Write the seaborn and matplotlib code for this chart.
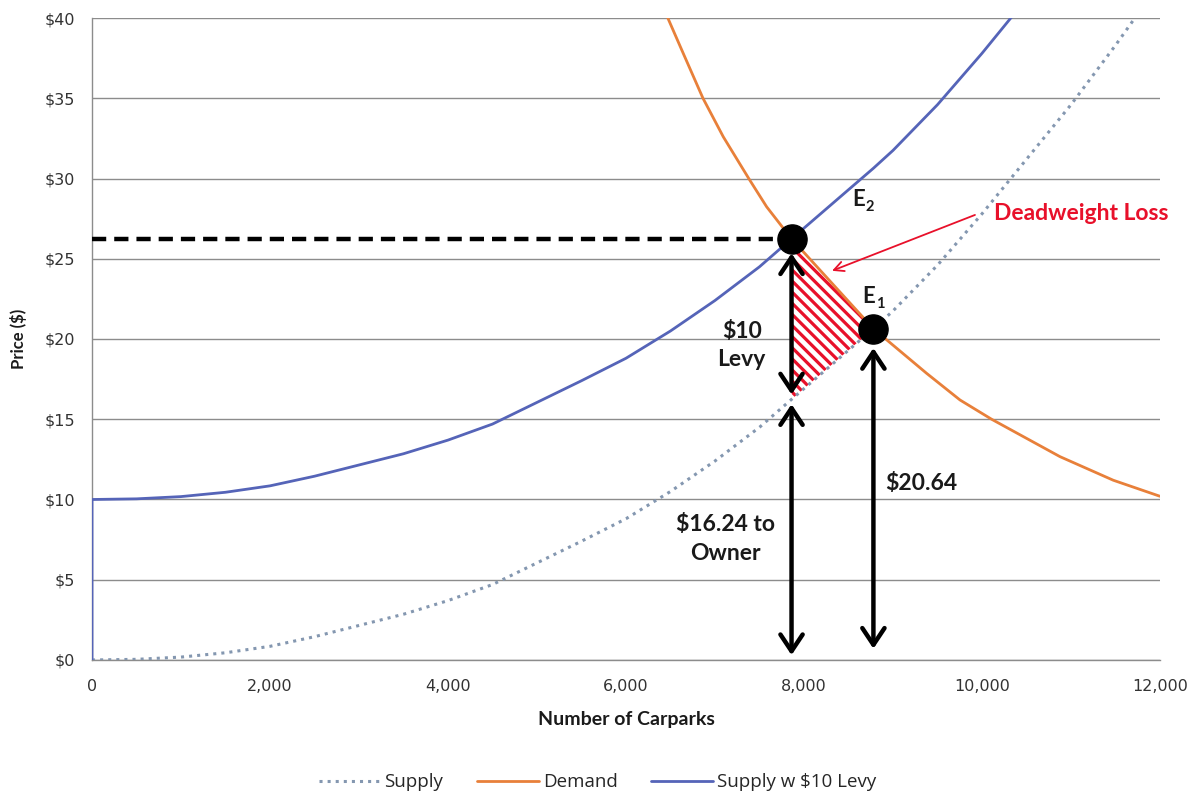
import matplotlib
matplotlib.use("Agg")
import matplotlib.pyplot as plt
import matplotlib.ticker as mticker
import numpy as np
import pandas as pd
import seaborn as sns

# ---- data -------------------------------------------------------------
quantity = [0, 500, 1000, 1500, 2000, 2500, 3000, 3500, 4000, 4500, 5000,
            5500, 6000, 6500, 7000, 7500, 7860, 8780, 9000, 9500, 10000,
            10500, 11000, 11500, 12000]
supply_price = [0, 0.04, 0.18, 0.45, 0.85, 1.45, 2.15, 2.85, 3.7, 4.7, 6.05,
                7.4, 8.8, 10.5, 12.4, 14.5, 16.24, 20.64, 21.75, 24.6, 27.8,
                31.2, 34.6, 38.3, 42.2]
levy = 10

demand_quantity = [6470, 6643, 6865, 7093, 7385, 7580, 7860, 8780, 9378,
                   9753, 10108, 10876, 11475, 12000]
demand_price = [40, 37.8, 35, 32.6, 29.95, 28.24, 26.24, 20.64, 17.86,
                16.2, 15.0, 12.67, 11.2, 10.2]

e1_quantity, e1_price = 8780, 20.64      # market equilibrium without levy
e2_quantity, e2_price = 7860, 26.24      # equilibrium with the levy
owner_price = 16.24                       # price received by the owner

y_ticks = [0, 5, 10, 15, 20, 25, 30, 35, 40]
x_ticks = [0, 2000, 4000, 6000, 8000, 10000, 12000]

# supply curve shifted up by the levy (starts from the origin)
levy_quantity = [0] + quantity
levy_price = [0] + [p + levy for p in supply_price]

# ---- style ------------------------------------------------------------
sns.set_style("white")
plt.rcParams["font.family"] = ["DejaVu Sans"]
plt.rcParams["hatch.linewidth"] = 2.3

fig = plt.figure(figsize=(11.95, 7.94), dpi=100)
ax = fig.add_axes([0.077, 0.1688, 0.8937, 0.8085])

c_supply = "#8497b0"
c_demand = "#e8803a"
c_levy = "#5564b8"
c_red = "#e8102a"

sns.lineplot(x=quantity, y=supply_price, ax=ax, color=c_supply,
             linestyle=":", linewidth=2.2, estimator=None, sort=False,
             label="Supply", zorder=3)
sns.lineplot(x=demand_quantity, y=demand_price, ax=ax, color=c_demand,
             linewidth=2.0, estimator=None, sort=False, label="Demand",
             zorder=3)
sns.lineplot(x=levy_quantity, y=levy_price, ax=ax, color=c_levy,
             linewidth=2.0, estimator=None, sort=False,
             label="Supply w \\$10 Levy", zorder=3)

# deadweight loss triangle
ax.fill([e2_quantity, e1_quantity, e2_quantity],
        [e2_price, e1_price, owner_price],
        facecolor="white", edgecolor=c_red, linewidth=0, hatch="\\\\\\",
        zorder=2)

# dashed price line for the levy equilibrium
ax.plot([0, e2_quantity], [e2_price, e2_price], color="black",
        linestyle=(0, (3.2, 1.8)), linewidth=3.2, zorder=4)

# double-headed arrows
arrow_kw = dict(arrowstyle="<->,head_length=0.6,head_width=0.4",
                color="black", lw=3.2, shrinkA=0, shrinkB=0,
                mutation_scale=20)
ax.annotate("", xy=(e2_quantity, e2_price - 0.9),
            xytext=(e2_quantity, owner_price + 0.3), arrowprops=arrow_kw,
            zorder=5)
ax.annotate("", xy=(e2_quantity, owner_price - 0.3),
            xytext=(e2_quantity, 0.3), arrowprops=arrow_kw, zorder=5)
ax.annotate("", xy=(e1_quantity, e1_price - 1.2),
            xytext=(e1_quantity, 0.7), arrowprops=arrow_kw, zorder=5)

# equilibrium points
ax.plot([e2_quantity, e1_quantity], [e2_price, e1_price], "o",
        color="black", markersize=21, zorder=6)

bold = dict(family=["Lato", "DejaVu Sans"], fontweight="bold",
            color="#1a1a1a")
ax.text(8540, 28.7, "E", fontsize=16, ha="left", va="center", **bold)
ax.text(8690, 28.25, "2", fontsize=10.5, ha="left", va="center", **bold)
ax.text(8660, 22.65, "E", fontsize=16, ha="left", va="center", **bold)
ax.text(8810, 22.2, "1", fontsize=10.5, ha="left", va="center", **bold)

ax.text(7300, 19.6, "\\$10\nLevy", fontsize=16.5, ha="center",
        va="center", linespacing=1.45, **bold)
ax.text(7120, 7.55, "\\$16.24 to\nOwner", fontsize=16.5, ha="center",
        va="center", linespacing=1.45, **bold)
ax.text(9315, 11.0, "\\$20.64", fontsize=16.5, ha="center", va="center",
        **bold)

ax.text(11110, 27.85, "Deadweight Loss", fontsize=16.5, ha="center",
        va="center", color=c_red, family=["Lato", "DejaVu Sans"],
        fontweight="bold")
ax.annotate("", xy=(8315, 24.25), xytext=(9921, 27.73),
            arrowprops=dict(arrowstyle="->,head_length=0.7,head_width=0.35",
                            color=c_red, lw=1.3, shrinkA=0, shrinkB=0))

# ---- axes -------------------------------------------------------------
ax.set_xlim(0, 12000)
ax.set_ylim(0, 40)
ax.set_yticks(y_ticks)
ax.set_xticks(x_ticks)
ax.yaxis.set_major_formatter(mticker.FuncFormatter(lambda v, p: f"\\${v:.0f}"))
ax.xaxis.set_major_formatter(mticker.FuncFormatter(lambda v, p: f"{v:,.0f}"))
ax.tick_params(axis="both", labelsize=11.5, labelcolor="#333333",
               color="#8c8c8c", length=6, width=1, direction="out")
ax.tick_params(axis="x", pad=8)
ax.tick_params(axis="y", pad=6)
ax.yaxis.grid(True, color="#8c8c8c", linewidth=1)
ax.set_axisbelow(True)
for side in ("top", "right"):
    ax.spines[side].set_visible(False)
for side in ("left", "bottom"):
    ax.spines[side].set_color("#8c8c8c")
    ax.spines[side].set_linewidth(1)

ax.set_xlabel("Number of Carparks", fontsize=14, fontweight="bold",
              family=["Lato", "DejaVu Sans"], labelpad=12, color="#1a1a1a")
ax.set_ylabel("Price (\\$)", fontsize=12, fontweight="bold",
              family=["Lato", "DejaVu Sans"], labelpad=13, color="#1a1a1a")

handles, labels = ax.get_legend_handles_labels()
ax.legend_.remove()
fig.legend(handles, labels, loc="center", bbox_to_anchor=(0.5, 0.015),
           ncol=3, frameon=False, handlelength=3.3,
           handletextpad=0.2, columnspacing=1.8,
           prop={"family": ["Open Sans", "DejaVu Sans"], "size": 13.5})

fig.savefig("out.png", dpi=100)
